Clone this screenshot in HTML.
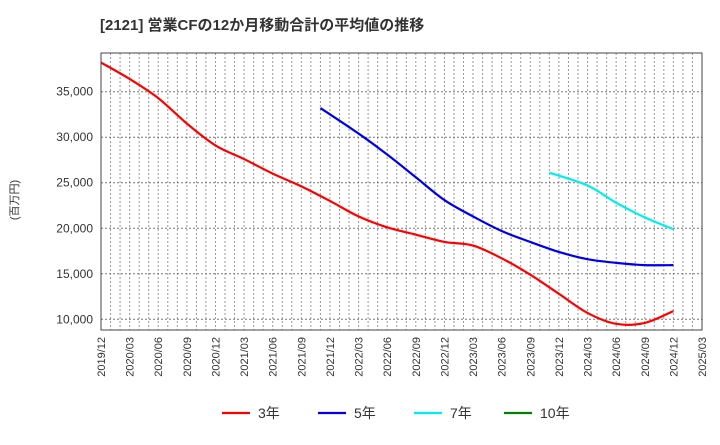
<!DOCTYPE html>
<html><head><meta charset="utf-8"><style>
body{margin:0;background:#fff;}
svg{font-family:"Liberation Sans","Noto Sans CJK JP",sans-serif;}
</style></head><body>
<svg id="c" width="720" height="440">
<text x="100" y="30" font-size="15" font-weight="bold" fill="#333">[2121]  営業CFの12か月移動合計の平均値の推移</text>
<text transform="translate(18,200) rotate(-90)" text-anchor="middle" font-size="11" fill="#333">(百万円)</text>
<g id="grid"></g><g id="ticks"></g><g id="lines"></g>
<rect x="101" y="53" width="601" height="277" fill="none" stroke="#444" stroke-width="1"/>
<g id="legend"></g>
</svg>
<script>
const xLabels=["2019/12","2020/03","2020/06","2020/09","2020/12","2021/03","2021/06","2021/09","2021/12","2022/03","2022/06","2022/09","2022/12","2023/03","2023/06","2023/09","2023/12","2024/03","2024/06","2024/09","2024/12","2025/03"];
const yTicks=[10000,15000,20000,25000,30000,35000];
const d3=["2019/12","2020/03","2020/06","2020/09","2020/12","2021/03","2021/06","2021/09","2021/12","2022/03","2022/06","2022/09","2022/12","2023/03","2023/06","2023/09","2023/12","2024/03","2024/06","2024/09","2024/12"];
const s3=[38200,36400,34300,31500,29100,27600,26000,24600,23000,21300,20100,19300,18500,18100,16700,14900,12800,10700,9500,9600,10900];
const d5=["2021/11","2022/03","2022/06","2022/09","2022/12","2023/03","2023/06","2023/09","2023/12","2024/03","2024/06","2024/09","2024/12"];
const s5=[33200,30400,28100,25600,23100,21300,19700,18500,17400,16600,16200,15950,15950];
const d7=["2023/11","2024/03","2024/06","2024/09","2024/12"];
const s7=[26100,24700,22800,21200,19900];
const NS="http://www.w3.org/2000/svg";
const X0=101,X1=702,Y0=53,Y1=330;
const totalMonths=(xLabels.length-1)*3;
const mIdx=d=>{const [y,m]=d.split('/').map(Number);return (y-2019)*12+(m-12);};
const xm=m=>X0+(X1-X0)*m/totalMonths;
const ys=v=>319.3-(v-10000)*0.009104;
function mk(t,a,p){const e=document.createElementNS(NS,t);for(const k in a)e.setAttribute(k,a[k]);p.appendChild(e);return e;}
const grid=document.getElementById('grid'),ticks=document.getElementById('ticks'),lines=document.getElementById('lines'),leg=document.getElementById('legend');
for(let m=1;m<totalMonths;m++){const x=xm(m);
const g=mk('line',{x1:x,x2:x,y1:Y0,y2:Y1,stroke:'#999','stroke-dasharray':'2,2','stroke-width':1},grid);

}
yTicks.forEach(v=>{const y=ys(v);
const g=mk('line',{x1:X0,x2:X1,y1:y,y2:y,stroke:'#777','stroke-dasharray':'2,2','stroke-width':1},grid);


const t=mk('text',{x:93,y:y+4,'text-anchor':'end','font-size':12,fill:'#333'},ticks);t.textContent=v.toLocaleString('en-US');

});
xLabels.forEach(l=>{const x=xm(mIdx(l));
const t=mk('text',{transform:`translate(${x+4},337) rotate(-90)`,'text-anchor':'end','font-size':11,fill:'#333'},ticks);t.textContent=l;

});
function path(vals,dates){const p=vals.map((v,i)=>[xm(mIdx(dates[i])),ys(v)]);let d=`M${p[0][0]},${p[0][1]}`;
for(let i=0;i<p.length-1;i++){const a=p[i-1]||p[i],b=p[i],c=p[i+1],e=p[i+2]||c;
d+=` C${b[0]+(c[0]-a[0])/6},${b[1]+(c[1]-a[1])/6} ${c[0]-(e[0]-b[0])/6},${c[1]-(e[1]-b[1])/6} ${c[0]},${c[1]}`;}return d;}
[[s3,d3,'#ff0000','line-3yr'],[s5,d5,'#0000ee','line-5yr'],[s7,d7,'#00eeee','line-7yr']].forEach(([a,dd,c,n])=>{
const e=mk('path',{d:path(a,dd),fill:'none',stroke:c,'stroke-width':2.2},lines);

});
[['3年','#ff0000',222],['5年','#0000ee',318],['7年','#00eeee',414],['10年','#008000',504]].forEach(([l,c,x])=>{
const g=mk('g',{},leg);


mk('line',{x1:x,x2:x+28,y1:413,y2:413,stroke:c,'stroke-width':2.2},g);
const t=mk('text',{x:x+36,y:418,'font-size':14,fill:'#333'},g);t.textContent=l;});
</script>
</body></html>
